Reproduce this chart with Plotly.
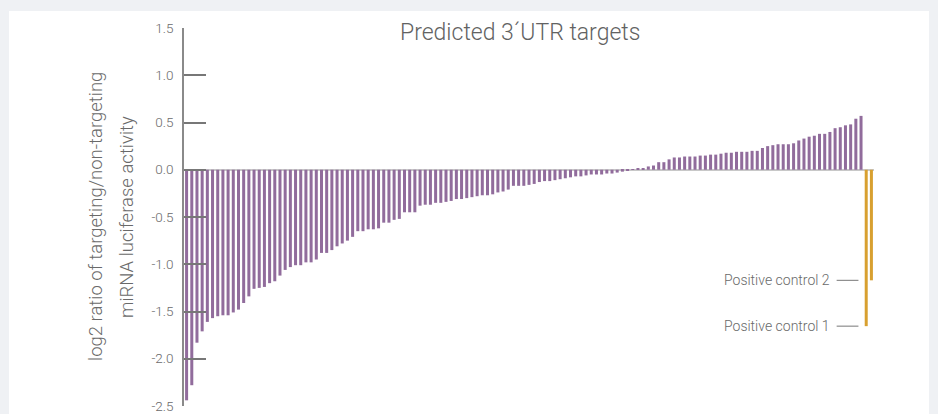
import plotly.graph_objects as go

# ---- data ----
target_values = [
    -2.44, -2.28, -1.83, -1.71, -1.61, -1.57, -1.55, -1.54, -1.54, -1.51,
    -1.48, -1.41, -1.34, -1.26, -1.25, -1.24, -1.20, -1.18, -1.12, -1.06,
    -1.03, -1.01, -1.01, -0.98, -0.98, -0.95, -0.88, -0.88, -0.85, -0.81,
    -0.78, -0.75, -0.71, -0.65, -0.65, -0.63, -0.63, -0.62, -0.56, -0.56,
    -0.53, -0.52, -0.45, -0.45, -0.45, -0.38, -0.37, -0.37, -0.35, -0.35,
    -0.34, -0.33, -0.31, -0.31, -0.30, -0.29, -0.28, -0.27, -0.27, -0.26,
    -0.24, -0.23, -0.21, -0.17, -0.17, -0.17, -0.16, -0.15, -0.13, -0.12,
    -0.12, -0.11, -0.10, -0.09, -0.08, -0.07, -0.07, -0.06, -0.05, -0.05,
    -0.05, -0.04, -0.04, -0.03, -0.02, -0.005, 0.005, 0.015, 0.015, 0.035,
    0.045, 0.08, 0.08, 0.11, 0.13, 0.13, 0.14, 0.14, 0.14, 0.15,
    0.15, 0.16, 0.16, 0.17, 0.18, 0.18, 0.19, 0.19, 0.19, 0.20,
    0.20, 0.23, 0.25, 0.26, 0.27, 0.27, 0.27, 0.28, 0.31, 0.33,
    0.35, 0.36, 0.38, 0.38, 0.40, 0.44, 0.45, 0.47, 0.48, 0.54,
    0.57,
]
control_labels = ["Positive control 1", "Positive control 2"]
control_values = [-1.655, -1.17]

tick_vals = [1.5, 1.0, 0.5, 0.0, -0.5, -1.0, -1.5, -2.0, -2.5]
tick_text = ["1.5", "1.0", "0.5", "0.0", "-0.5", "-1.0", "-1.5", "-2.0", "-2.5"]

title_text = "Predicted 3\u00b4UTR targets"
y_title_lines = ["log2 ratio of targeting/non-targeting", "miRNA luciferase activity"]

target_x = list(range(len(target_values)))
control_x = [len(target_values) + i for i in range(len(control_values))]
n_total = len(target_values) + len(control_values)

PURPLE = "#916c9c"
GOLD = "#d8a030"
TEXT = "#6a6a6a"
BG = "#eff1f4"
FONT = "Roboto"
WEIGHT = 300

fig = go.Figure()
fig.add_trace(go.Bar(x=target_x, y=target_values, marker_color=PURPLE,
                     marker_line_width=0, showlegend=False, hoverinfo="skip"))
fig.add_trace(go.Bar(x=control_x, y=control_values, marker_color=GOLD,
                     marker_line_width=0, showlegend=False, hoverinfo="skip"))

L, R, T, B = 184, 64, 28, 8
W = 938 - L - R
H = 414 - T - B

def px_to_paper_x(px):
    return (px - L) / W

def px_to_paper_y(py):
    return (414 - B - py) / H

# white panel
fig.add_shape(type="rect", xref="paper", yref="paper",
              x0=px_to_paper_x(9), x1=px_to_paper_x(929),
              y0=px_to_paper_y(420), y1=px_to_paper_y(11),
              fillcolor="white", line_width=0, layer="below")

# annotations for positive controls (leader lines aligned in one column)
first_ctrl = control_x[0]
x_line0 = first_ctrl - 5.7
x_line1 = first_ctrl - 1.5
for lab, yv in zip(control_labels, control_values):
    fig.add_shape(type="line", xref="x", yref="y", x0=x_line0, x1=x_line1,
                  y0=yv, y1=yv, line=dict(color="#777777", width=1))
    fig.add_annotation(x=x_line0, y=yv, xref="x", yref="y", text=lab,
                       showarrow=False, xanchor="right", yanchor="middle",
                       xshift=-5,
                       font=dict(family=FONT, size=14, color=TEXT, weight=WEIGHT))

# title
fig.add_annotation(text=title_text, xref="paper", yref="paper",
                   x=px_to_paper_x(520), y=px_to_paper_y(32),
                   xanchor="center", yanchor="middle", showarrow=False,
                   font=dict(family=FONT, size=23, color="#626262", weight=WEIGHT))

# y-axis title (two lines)
for line, cx in zip(y_title_lines, [96, 127]):
    fig.add_annotation(text=line, xref="paper", yref="paper",
                       x=px_to_paper_x(cx), y=0.5, textangle=-90,
                       xanchor="center", yanchor="middle", showarrow=False,
                       font=dict(family=FONT, size=18.5, color=TEXT, weight=WEIGHT))

fig.update_layout(
    width=938, height=414,
    margin=dict(l=L, r=R, t=T, b=B, pad=0, autoexpand=False),
    paper_bgcolor=BG,
    plot_bgcolor="white",
    bargap=0.42,
    showlegend=False,
    hovermode=False,
    xaxis=dict(range=[-0.5, n_total - 0.5], visible=False, showgrid=False,
               zeroline=False, automargin=False),
    yaxis=dict(range=[-2.5, 1.5], tickvals=tick_vals, ticktext=tick_text,
               automargin=False,
               showgrid=False, zeroline=True, zerolinecolor="#c8c8c8",
               zerolinewidth=1.5, showline=True, linecolor="#8a8a8a",
               linewidth=1.5, ticks="inside", ticklen=22, tickwidth=1.5,
               tickcolor="#777777", ticklabelstandoff=6,
               tickfont=dict(family=FONT, size=13.5, color=TEXT, weight=WEIGHT)),
)

fig.write_html(
    "out.html",
    config={"displayModeBar": False},
    post_script="document.body.style.margin='0';"
                "document.body.style.overflow='hidden';"
                "document.body.style.background='" + BG + "';",
)
